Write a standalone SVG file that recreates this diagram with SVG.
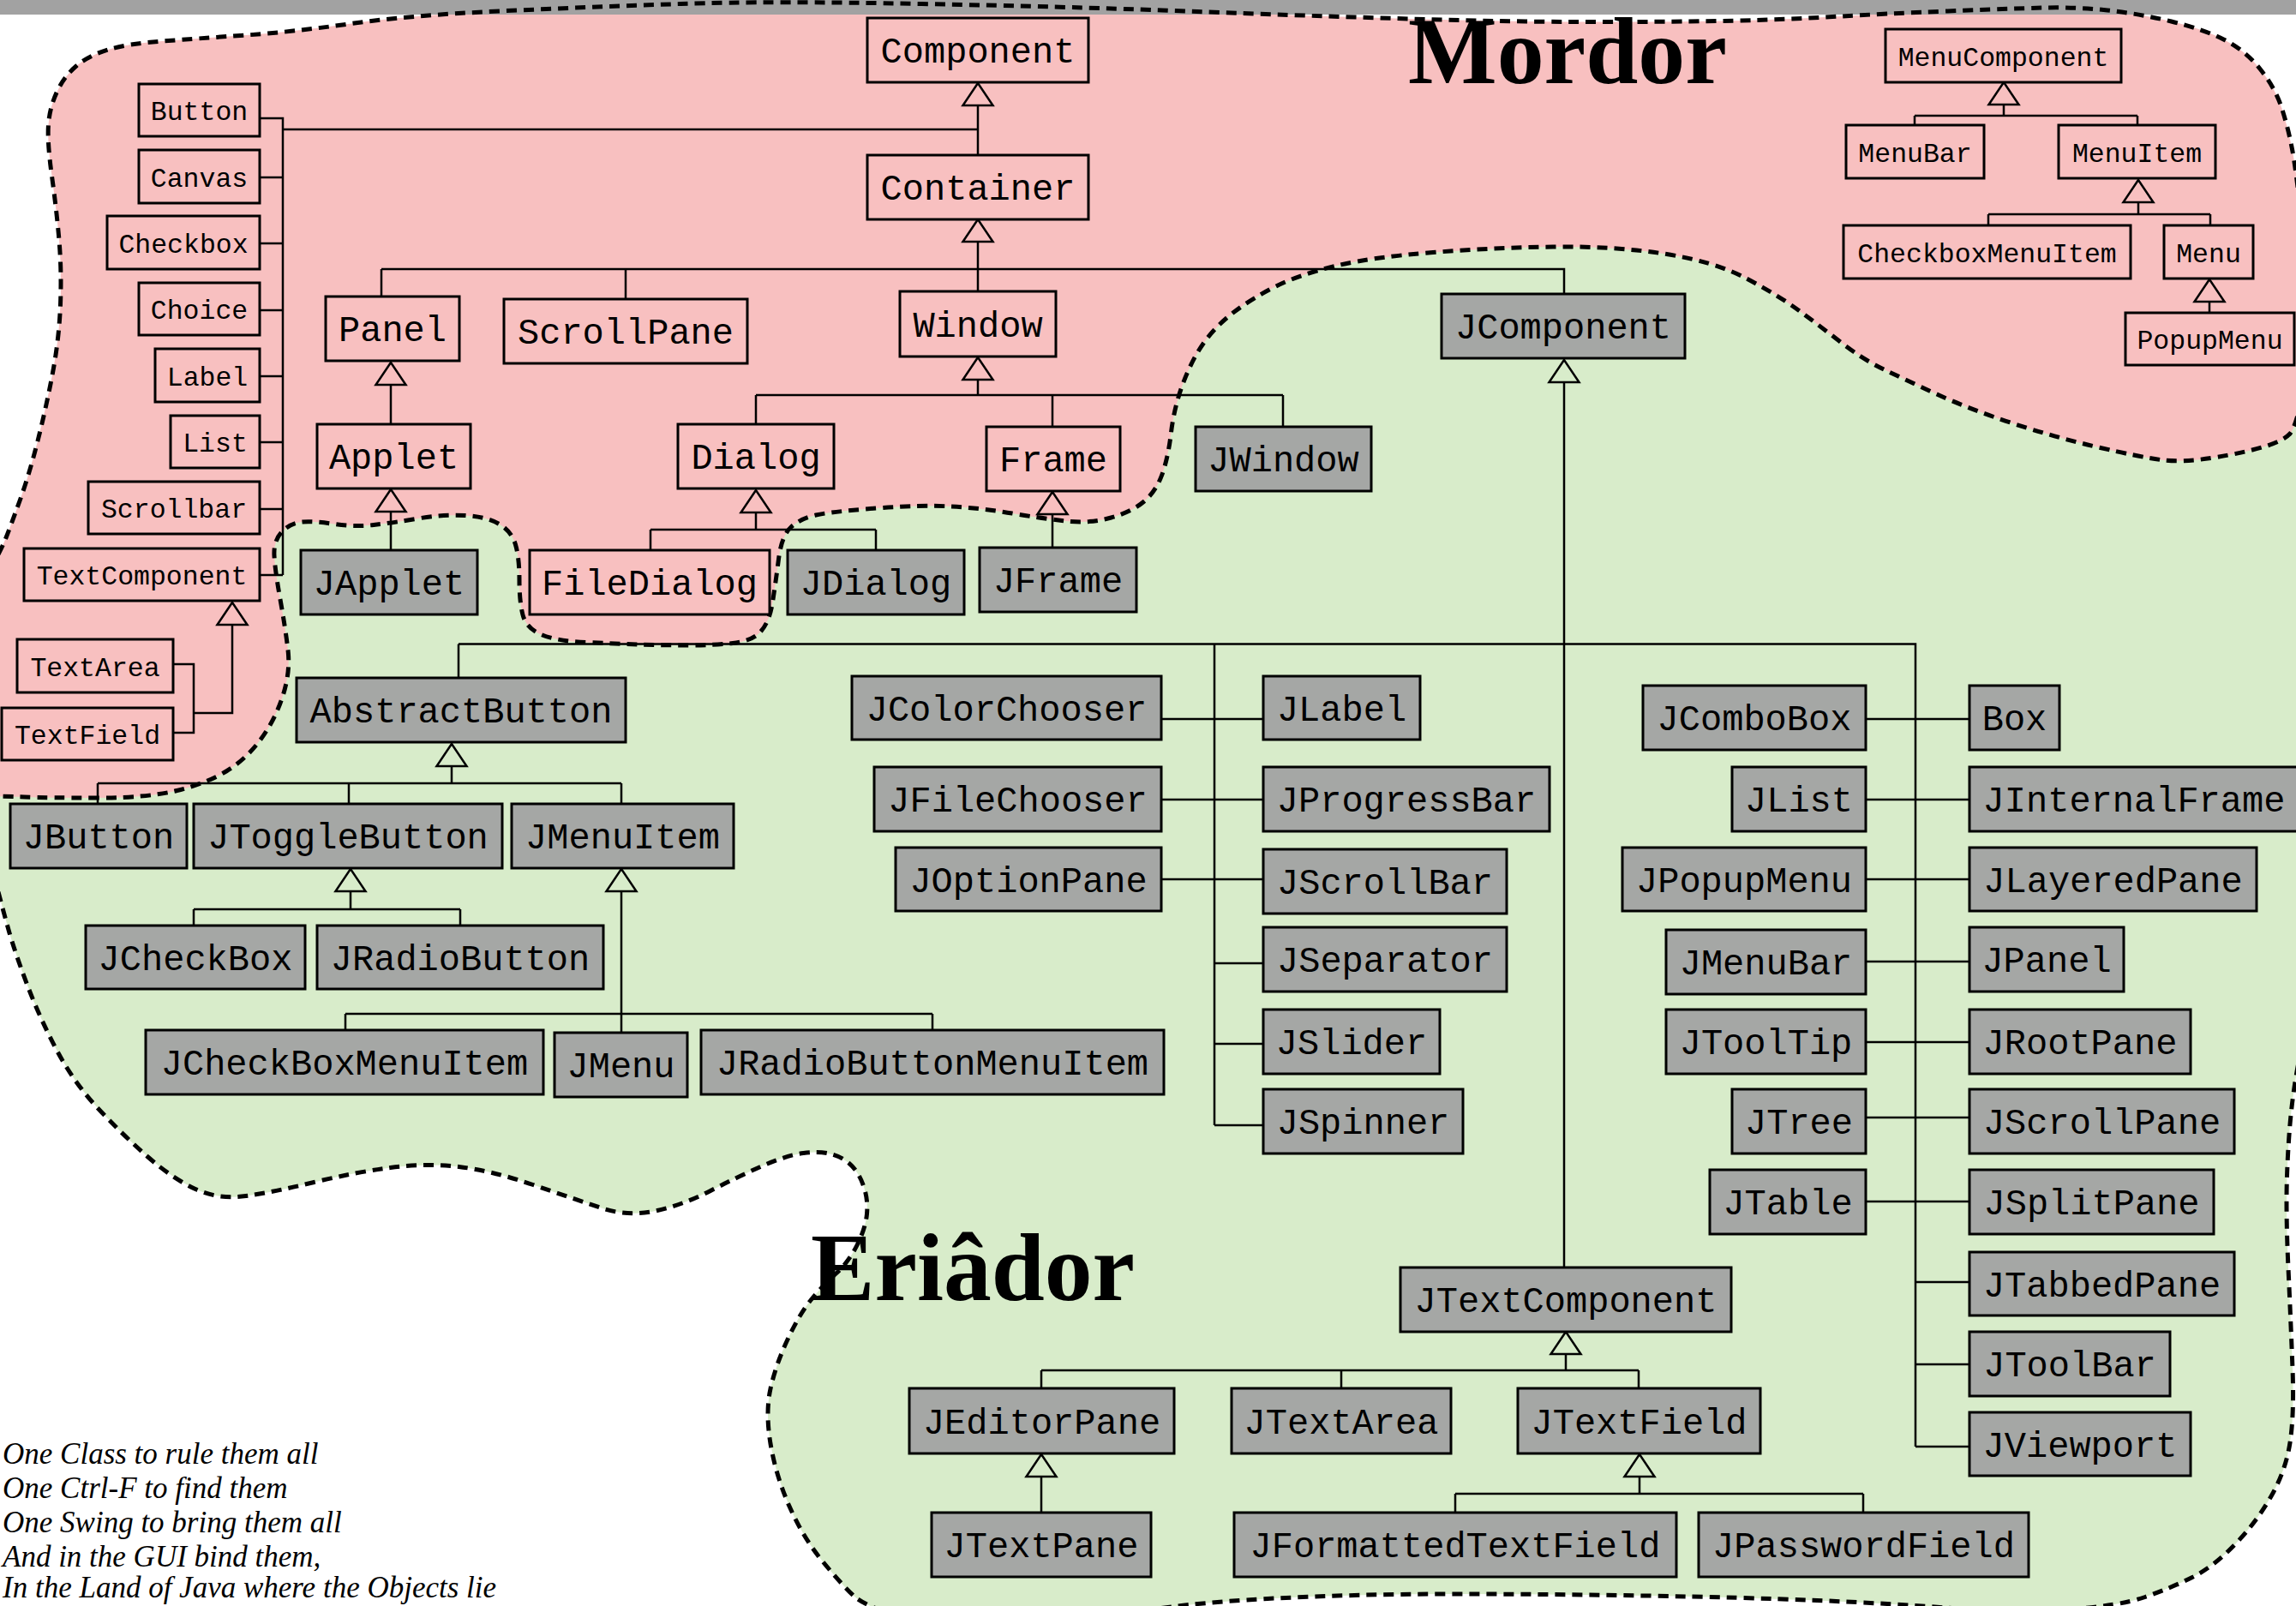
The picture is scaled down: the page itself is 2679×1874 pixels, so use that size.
<svg xmlns="http://www.w3.org/2000/svg" xmlns:xlink="http://www.w3.org/1999/xlink" width="2679" height="1874" viewBox="0 0 2679 1874">
<defs>
<style>
.p{fill:#f8c0c0;stroke:#000;stroke-width:3}
.g{fill:#a5a7a5;stroke:#000;stroke-width:3}
.t{font-family:"Liberation Mono","Courier New",monospace;text-anchor:middle;fill:#000}
.L{font-size:42px}
.S{font-size:31.5px}
.c{fill:none;stroke:#000;stroke-width:2.5}
.a{fill:none;stroke:#000;stroke-width:2.5;stroke-linejoin:miter}
.title{font-family:"Liberation Serif","DejaVu Serif",serif;font-weight:bold;fill:#000}
.poem{font-family:"Liberation Serif","DejaVu Serif",serif;font-style:italic;font-size:35px;fill:#000}
.outline{fill:none;stroke:#000;stroke-width:5;stroke-dasharray:12 8}
</style>
<path id="tri" class="a" d="M0,0 L-17.5,26 L17.5,26 Z"/>
<path id="mordorShape" d="M-20,804.5 Q-20,680 -9,660 Q2,640 7,627.5 Q12,615 23,584.5 Q34,554 44,514.5 Q54,475 61.5,435 Q69,395 70.5,355.5 Q72,316 69,280.5 Q66,245 60.5,205.5 Q55,166 56.5,145.5 Q58,125 66.5,107 Q75,89 89,77 Q103,65 126,58 Q149,51 189.5,48 Q230,45 287,41 Q344,37 410,27.5 Q476,18 582.5,13 Q689,8 794.5,4.5 Q900,1 1075.5,4.5 Q1251,8 1356,12 Q1461,16 1549,19 Q1637,22 1724.5,24 Q1812,26 1906,25.5 Q2000,25 2049.5,23.5 Q2099,22 2148.5,19 Q2198,16 2272.5,13 Q2347,10 2384.5,9 Q2422,8 2459,12 Q2496,16 2533.5,25 Q2571,34 2595.5,46.5 Q2620,59 2637.5,81 Q2655,103 2662.5,126.5 Q2670,150 2674.5,174 Q2679,198 2684.5,249 Q2690,300 2692.5,360 Q2695,420 2687,459 Q2679,498 2672,506 Q2665,514 2642.5,521 Q2620,528 2583,534 Q2546,540 2521,536.5 Q2496,533 2446.5,521.5 Q2397,510 2347,493.5 Q2297,477 2260,460 Q2223,443 2198,431 Q2173,419 2148,399.5 Q2123,380 2098.5,362 Q2074,344 2037,324.5 Q2000,305 1941,296 Q1882,287 1812,288 Q1742,289 1672,294.5 Q1602,300 1559.5,310 Q1517,320 1489,334 Q1461,348 1440,364 Q1419,380 1405,399.5 Q1391,419 1380.5,447 Q1370,475 1366.5,504.5 Q1363,534 1356,553.5 Q1349,573 1335,585 Q1321,597 1296.5,604 Q1272,611 1244,608 Q1216,605 1181,599 Q1146,593 1110.5,591 Q1075,589 1022.5,593 Q970,597 952,601 Q934,605 923,615 Q912,625 908.5,652.5 Q905,680 901.5,702.5 Q898,725 888,736.5 Q878,748 855,750.5 Q832,753 803.5,753 Q775,753 746.5,752 Q718,751 683.5,749.5 Q649,748 631.5,740.5 Q614,733 610,717.5 Q606,702 606,676.5 Q606,651 601.5,635.5 Q597,620 582.5,611.5 Q568,603 542.5,601.5 Q517,600 488,605 Q459,610 436,612.5 Q413,615 390,611.5 Q367,608 353,609 Q339,610 329,620.5 Q319,631 320,648.5 Q321,666 327,699.5 Q333,733 336,758.5 Q339,784 330,812 Q321,840 304,863 Q287,886 264,900 Q241,914 206.5,922.5 Q172,931 114.5,931 Q57,931 28.5,930 Q0,929 -10,929 Q-20,929 -20,804.5 Z"/>
<path id="eriadorShape" d="M-30,945 Q-30,960 -20,985 Q-10,1010 -3.5,1035 Q3,1060 10,1085 Q17,1110 31.5,1148.5 Q46,1187 66,1225 Q86,1263 114.5,1293.5 Q143,1324 172,1349.5 Q201,1375 228,1387.5 Q255,1400 287,1395.5 Q319,1391 366.5,1379.5 Q414,1368 455.5,1362.5 Q497,1357 535.5,1361.5 Q574,1366 622,1382.5 Q670,1399 701.5,1409.5 Q733,1420 765,1413 Q797,1406 829,1389.5 Q861,1373 889.5,1360.5 Q918,1348 937.5,1345.5 Q957,1343 971,1347 Q985,1351 994,1360.5 Q1003,1370 1008,1385 Q1013,1400 1011.5,1416.5 Q1010,1433 1000,1453 Q990,1473 975,1486.5 Q960,1500 946.5,1516.5 Q933,1533 919,1563 Q905,1593 899,1620.5 Q893,1648 899,1684.5 Q905,1721 921,1757.5 Q937,1794 959.5,1821.5 Q982,1849 996,1862 Q1010,1875 1055,1887.5 Q1100,1900 1175,1897.5 Q1250,1895 1313.5,1883 Q1377,1871 1479,1865.5 Q1581,1860 1694.5,1860 Q1808,1860 1921.5,1862 Q2035,1864 2120,1867.5 Q2205,1871 2277.5,1876.5 Q2350,1882 2411.5,1878 Q2473,1874 2503,1863.5 Q2533,1853 2558,1840.5 Q2583,1828 2608,1802 Q2633,1776 2650,1746 Q2667,1716 2672,1683.5 Q2677,1651 2675,1597.5 Q2673,1544 2670,1479.5 Q2667,1415 2668.5,1372 Q2670,1329 2673.5,1296.5 Q2677,1264 2683.5,1232 Q2690,1200 2700,1050 Q2710,900 2725,690 Q2740,480 2670,430 Q2600,380 2050,290 Q1500,200 1000,200 Q500,200 325,325 Q150,450 115,625 Q80,800 25,865 Q-30,930 -30,945 Z"/>
</defs>

<g id="background">
<rect x="0" y="0" width="2679" height="1874" fill="#ffffff"/>
</g>

<g id="eriador-region">
<use xlink:href="#eriadorShape" fill="#d8ecca"/>
<use xlink:href="#eriadorShape" class="outline"/>
</g>

<g id="mordor-region">
<use xlink:href="#mordorShape" fill="#f8c0c0"/>
</g>

<rect id="top-bar" x="0" y="0" width="2679" height="17" fill="#a2a2a2"/>

<g id="mordor-outline">
<use xlink:href="#mordorShape" class="outline"/>
</g>

<g id="labels">
<text class="title" x="1643" y="97" font-size="110" textLength="372" lengthAdjust="spacingAndGlyphs">Mordor</text>
<text class="title" x="946" y="1517" font-size="112" textLength="378" lengthAdjust="spacingAndGlyphs">Eriâdor</text>
<text class="poem" x="3" y="1708">One Class to rule them all</text>
<text class="poem" x="3" y="1748">One Ctrl-F to find them</text>
<text class="poem" x="3" y="1788">One Swing to bring them all</text>
<text class="poem" x="3" y="1828">And in the GUI bind them,</text>
<text class="poem" x="3" y="1864">In the Land of Java where the Objects lie</text>
</g>

<g id="connectors">
<path class="c" d="M303,138 H330 V671 M330,151 H1141 M1141,181 V123 M303,207 H330 M303,284 H330 M303,362 H330 M303,439 H330 M303,516 H330 M303,594 H330 M303,671 H330"/>
<path class="c" d="M202,775 H226 V855 H202 M226,832 H271 V729"/>
<path class="c" d="M1141,282 V340 M445,314 H1825 V343 M445,314 V346 M730,314 V349"/>
<path class="c" d="M456,449 V495 M456,597 V642"/>
<path class="c" d="M1141,443 V461 M882,461 H1497 M882,461 V495 M1228,461 V498 M1497,461 V498"/>
<path class="c" d="M882,598 V618 M759,618 H1022 M759,618 V642 M1022,618 V642 M1228,600 V639"/>
<path class="c" d="M1825,446 V1479 M535,751.5 H2235 V1688 M535,751.5 V791 M1417,751.5 V1313"/>
<path class="c" d="M1355,839 H1474 M1355,933 H1474 M1355,1026 H1474 M1417,1124 H1474 M1417,1218 H1474 M1417,1313 H1474"/>
<path class="c" d="M2177,839 H2298 M2177,933 H2298 M2177,1026 H2298 M2177,1122 H2298 M2177,1216 H2298 M2177,1304 H2298 M2177,1402 H2298 M2235,1496 H2298 M2235,1592 H2298 M2235,1688 H2298"/>
<path class="c" d="M527,894 V914 M114,914 H725 M114,914 V938 M407,914 V938 M725,914 V938"/>
<path class="c" d="M409,1040 V1061 M226,1061 H537 M226,1061 V1080 M537,1061 V1080"/>
<path class="c" d="M725,1040 V1205 M403,1183 H1088 M403,1183 V1202 M1088,1183 V1202"/>
<path class="c" d="M1827,1580 V1599 M1215,1599 H1912 M1215,1599 V1620 M1565,1599 V1620 M1912,1599 V1620"/>
<path class="c" d="M1215,1723 V1765 M1913,1723 V1743 M1698,1743 H2174 M1698,1743 V1765 M2174,1743 V1765"/>
<path class="c" d="M2338,122 V135 M2234,135 H2494 M2234,135 V146 M2494,135 V146 M2495,237 V250 M2320,250 H2579 M2320,250 V263 M2579,250 V263 M2578,352 V365"/>
<use xlink:href="#tri" transform="translate(1141,97)"/>
<use xlink:href="#tri" transform="translate(1141,256)"/>
<use xlink:href="#tri" transform="translate(456,423)"/>
<use xlink:href="#tri" transform="translate(456,571)"/>
<use xlink:href="#tri" transform="translate(1141,417)"/>
<use xlink:href="#tri" transform="translate(882,572)"/>
<use xlink:href="#tri" transform="translate(1228,574)"/>
<use xlink:href="#tri" transform="translate(271,703)"/>
<use xlink:href="#tri" transform="translate(1825,420)"/>
<use xlink:href="#tri" transform="translate(527,868)"/>
<use xlink:href="#tri" transform="translate(409,1014)"/>
<use xlink:href="#tri" transform="translate(725,1014)"/>
<use xlink:href="#tri" transform="translate(1827,1554)"/>
<use xlink:href="#tri" transform="translate(1215,1697)"/>
<use xlink:href="#tri" transform="translate(1913,1697)"/>
<use xlink:href="#tri" transform="translate(2338,96)"/>
<use xlink:href="#tri" transform="translate(2495,210)"/>
<use xlink:href="#tri" transform="translate(2578,326)"/>
</g>

<g id="Button"><rect class="p" x="162" y="98" width="141" height="61"/><text class="t S" x="232.5" y="140">Button</text></g>
<g id="Canvas"><rect class="p" x="162" y="175" width="141" height="62"/><text class="t S" x="232.5" y="217.5">Canvas</text></g>
<g id="Checkbox"><rect class="p" x="125" y="252" width="178" height="62"/><text class="t S" x="214" y="294.5">Checkbox</text></g>
<g id="Choice"><rect class="p" x="162" y="330" width="141" height="61"/><text class="t S" x="232.5" y="372">Choice</text></g>
<g id="Label"><rect class="p" x="181" y="407" width="122" height="62"/><text class="t S" x="242" y="449.5">Label</text></g>
<g id="List"><rect class="p" x="199" y="485" width="104" height="61"/><text class="t S" x="251" y="527">List</text></g>
<g id="Scrollbar"><rect class="p" x="103" y="562" width="200" height="61"/><text class="t S" x="203" y="604">Scrollbar</text></g>
<g id="TextComponent"><rect class="p" x="28" y="640" width="275" height="61"/><text class="t S" x="165.5" y="682">TextComponent</text></g>
<g id="TextArea"><rect class="p" x="20" y="746" width="182" height="62"/><text class="t S" x="111" y="788.5">TextArea</text></g>
<g id="TextField"><rect class="p" x="2" y="826" width="200" height="61"/><text class="t S" x="102" y="868">TextField</text></g>

<g id="MenuComponent"><rect class="p" x="2200" y="34" width="275" height="62"/><text class="t S" x="2337.5" y="76.5">MenuComponent</text></g>
<g id="MenuBar"><rect class="p" x="2154" y="146" width="161" height="62"/><text class="t S" x="2234.5" y="188.5">MenuBar</text></g>
<g id="MenuItem"><rect class="p" x="2402" y="146" width="183" height="62"/><text class="t S" x="2493.5" y="188.5">MenuItem</text></g>
<g id="CheckboxMenuItem"><rect class="p" x="2151" y="263" width="335" height="62"/><text class="t S" x="2318.5" y="305.5">CheckboxMenuItem</text></g>
<g id="Menu"><rect class="p" x="2525" y="263" width="104" height="62"/><text class="t S" x="2577" y="305.5">Menu</text></g>
<g id="PopupMenu"><rect class="p" x="2480" y="365" width="197" height="61"/><text class="t S" x="2578.5" y="407">PopupMenu</text></g>

<g id="Component"><rect class="p" x="1012" y="21" width="258" height="75"/><text class="t L" x="1141" y="73">Component</text></g>
<g id="Container"><rect class="p" x="1012" y="181" width="258" height="75"/><text class="t L" x="1141" y="233">Container</text></g>
<g id="Panel"><rect class="p" x="380" y="346" width="156" height="75"/><text class="t L" x="458" y="398">Panel</text></g>
<g id="ScrollPane"><rect class="p" x="588" y="349" width="284" height="75"/><text class="t L" x="730" y="401">ScrollPane</text></g>
<g id="Window"><rect class="p" x="1050" y="340" width="182" height="76"/><text class="t L" x="1141" y="392.5">Window</text></g>
<g id="Applet"><rect class="p" x="370" y="495" width="179" height="75"/><text class="t L" x="459.5" y="547">Applet</text></g>
<g id="Dialog"><rect class="p" x="791" y="495" width="182" height="75"/><text class="t L" x="882" y="547">Dialog</text></g>
<g id="Frame"><rect class="p" x="1151" y="498" width="156" height="75"/><text class="t L" x="1229" y="550">Frame</text></g>
<g id="FileDialog"><rect class="p" x="618" y="642" width="280" height="75"/><text class="t L" x="758" y="694">FileDialog</text></g>

<g id="JComponent"><rect class="g" x="1682" y="343" width="284" height="75"/><text class="t L" x="1824" y="395">JComponent</text></g>
<g id="JWindow"><rect class="g" x="1395" y="498" width="205" height="75"/><text class="t L" x="1497.5" y="550">JWindow</text></g>
<g id="JApplet"><rect class="g" x="351" y="642" width="206" height="75"/><text class="t L" x="454" y="694">JApplet</text></g>
<g id="JDialog"><rect class="g" x="919" y="642" width="206" height="75"/><text class="t L" x="1022" y="694">JDialog</text></g>
<g id="JFrame"><rect class="g" x="1143" y="639" width="183" height="75"/><text class="t L" x="1234.5" y="691">JFrame</text></g>
<g id="AbstractButton"><rect class="g" x="346" y="791" width="384" height="75"/><text class="t L" x="538" y="843">AbstractButton</text></g>
<g id="JButton"><rect class="g" x="12" y="938" width="206" height="75"/><text class="t L" x="115" y="990">JButton</text></g>
<g id="JToggleButton"><rect class="g" x="226" y="938" width="360" height="75"/><text class="t L" x="406" y="990">JToggleButton</text></g>
<g id="JMenuItem"><rect class="g" x="597" y="938" width="259" height="75"/><text class="t L" x="726.5" y="990">JMenuItem</text></g>
<g id="JCheckBox"><rect class="g" x="100" y="1080" width="256" height="74"/><text class="t L" x="228" y="1131.5">JCheckBox</text></g>
<g id="JRadioButton"><rect class="g" x="370" y="1080" width="334" height="74"/><text class="t L" x="537" y="1131.5">JRadioButton</text></g>
<g id="JCheckBoxMenuItem"><rect class="g" x="170" y="1202" width="464" height="75"/><text class="t L" x="402" y="1254">JCheckBoxMenuItem</text></g>
<g id="JMenu"><rect class="g" x="647" y="1205" width="155" height="75"/><text class="t L" x="724.5" y="1257">JMenu</text></g>
<g id="JRadioButtonMenuItem"><rect class="g" x="818" y="1202" width="540" height="75"/><text class="t L" x="1088" y="1254">JRadioButtonMenuItem</text></g>

<g id="JColorChooser"><rect class="g" x="994" y="789" width="361" height="74"/><text class="t L" x="1174.5" y="840.5">JColorChooser</text></g>
<g id="JFileChooser"><rect class="g" x="1020" y="895" width="335" height="75"/><text class="t L" x="1187.5" y="947">JFileChooser</text></g>
<g id="JOptionPane"><rect class="g" x="1045" y="989" width="310" height="74"/><text class="t L" x="1200" y="1040.5">JOptionPane</text></g>
<g id="JLabel"><rect class="g" x="1474" y="789" width="183" height="74"/><text class="t L" x="1565.5" y="840.5">JLabel</text></g>
<g id="JProgressBar"><rect class="g" x="1474" y="895" width="334" height="75"/><text class="t L" x="1641" y="947">JProgressBar</text></g>
<g id="JScrollBar"><rect class="g" x="1474" y="991" width="284" height="75"/><text class="t L" x="1616" y="1043">JScrollBar</text></g>
<g id="JSeparator"><rect class="g" x="1474" y="1082" width="284" height="75"/><text class="t L" x="1616" y="1134">JSeparator</text></g>
<g id="JSlider"><rect class="g" x="1474" y="1178" width="206" height="75"/><text class="t L" x="1577" y="1230">JSlider</text></g>
<g id="JSpinner"><rect class="g" x="1474" y="1271" width="233" height="75"/><text class="t L" x="1590.5" y="1323">JSpinner</text></g>

<g id="JComboBox"><rect class="g" x="1917" y="800" width="260" height="75"/><text class="t L" x="2047" y="852">JComboBox</text></g>
<g id="JList"><rect class="g" x="2021" y="895" width="156" height="75"/><text class="t L" x="2099" y="947">JList</text></g>
<g id="JPopupMenu"><rect class="g" x="1893" y="989" width="284" height="74"/><text class="t L" x="2035" y="1040.5">JPopupMenu</text></g>
<g id="JMenuBar"><rect class="g" x="1944" y="1085" width="233" height="75"/><text class="t L" x="2060.5" y="1137">JMenuBar</text></g>
<g id="JToolTip"><rect class="g" x="1944" y="1178" width="233" height="75"/><text class="t L" x="2060.5" y="1230">JToolTip</text></g>
<g id="JTree"><rect class="g" x="2021" y="1271" width="156" height="75"/><text class="t L" x="2099" y="1323">JTree</text></g>
<g id="JTable"><rect class="g" x="1995" y="1365" width="182" height="75"/><text class="t L" x="2086" y="1417">JTable</text></g>

<g id="Box"><rect class="g" x="2298" y="800" width="105" height="75"/><text class="t L" x="2350.5" y="852">Box</text></g>
<g id="JInternalFrame"><rect class="g" x="2298" y="895" width="384" height="75"/><text class="t L" x="2490" y="947">JInternalFrame</text></g>
<g id="JLayeredPane"><rect class="g" x="2298" y="989" width="335" height="74"/><text class="t L" x="2465.5" y="1040.5">JLayeredPane</text></g>
<g id="JPanel"><rect class="g" x="2298" y="1082" width="180" height="75"/><text class="t L" x="2388" y="1134">JPanel</text></g>
<g id="JRootPane"><rect class="g" x="2298" y="1178" width="258" height="75"/><text class="t L" x="2427" y="1230">JRootPane</text></g>
<g id="JScrollPane"><rect class="g" x="2298" y="1271" width="309" height="75"/><text class="t L" x="2452.5" y="1323">JScrollPane</text></g>
<g id="JSplitPane"><rect class="g" x="2298" y="1365" width="285" height="75"/><text class="t L" x="2440.5" y="1417">JSplitPane</text></g>
<g id="JTabbedPane"><rect class="g" x="2298" y="1461" width="309" height="74"/><text class="t L" x="2452.5" y="1512.5">JTabbedPane</text></g>
<g id="JToolBar"><rect class="g" x="2298" y="1554" width="234" height="75"/><text class="t L" x="2415" y="1606">JToolBar</text></g>
<g id="JViewport"><rect class="g" x="2298" y="1648" width="258" height="74"/><text class="t L" x="2427" y="1699.5">JViewport</text></g>

<g id="JTextComponent"><rect class="g" x="1634" y="1479" width="386" height="75"/><text class="t L" x="1827" y="1531">JTextComponent</text></g>
<g id="JEditorPane"><rect class="g" x="1061" y="1620" width="309" height="76"/><text class="t L" x="1215.5" y="1672.5">JEditorPane</text></g>
<g id="JTextArea"><rect class="g" x="1437" y="1620" width="256" height="76"/><text class="t L" x="1565" y="1672.5">JTextArea</text></g>
<g id="JTextField"><rect class="g" x="1771" y="1620" width="283" height="76"/><text class="t L" x="1912.5" y="1672.5">JTextField</text></g>
<g id="JTextPane"><rect class="g" x="1087" y="1765" width="256" height="75"/><text class="t L" x="1215" y="1817">JTextPane</text></g>
<g id="JFormattedTextField"><rect class="g" x="1440" y="1765" width="516" height="75"/><text class="t L" x="1698" y="1817">JFormattedTextField</text></g>
<g id="JPasswordField"><rect class="g" x="1982" y="1765" width="385" height="75"/><text class="t L" x="2174.5" y="1817">JPasswordField</text></g>
</svg>
